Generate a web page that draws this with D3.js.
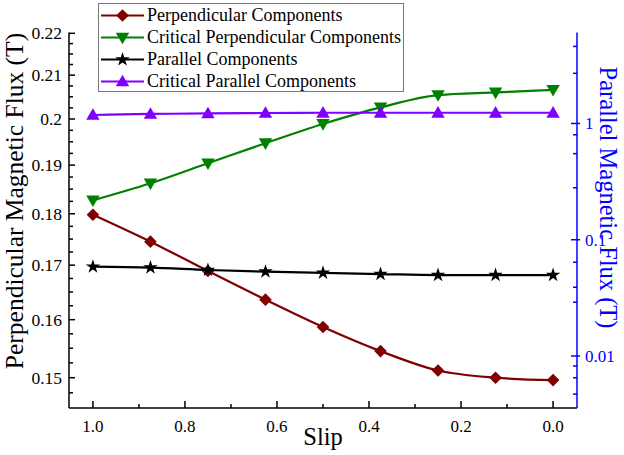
<!DOCTYPE html>
<html>
<head>
<meta charset="utf-8">
<script src="https://cdn.jsdelivr.net/npm/d3@7"></script>
<style>
  body { margin: 0; background: #fff; }
</style>
</head>
<body>
<div class="chart"></div>
<script>
// Chart size
var width = 624;
var height = 455;
var serif = "Liberation Serif, DejaVu Serif, serif";

// Data
var slip = [1.0, 0.875, 0.75, 0.625, 0.5, 0.375, 0.25, 0.125, 0.0];
var perpendicular = [0.1798, 0.1745, 0.1689, 0.1636, 0.1587, 0.1545, 0.1512, 0.1500, 0.1496];
var criticalPerpendicular = [0.1827, 0.1862, 0.1904, 0.1947, 0.1989, 0.2026, 0.2054, 0.2060, 0.2066];
var parallel = [0.0586, 0.0575, 0.0549, 0.0531, 0.0519, 0.0507, 0.0497, 0.0497, 0.0497];
var criticalParallel = [1.183, 1.207, 1.219, 1.231, 1.236, 1.236, 1.236, 1.236, 1.236];

// Tick values
var xMajorTicks = [1.0, 0.8, 0.6, 0.4, 0.2, 0.0];
var xMinorTicks = [0.9, 0.7, 0.5, 0.3, 0.1];
var leftMajorTicks = [0.15, 0.16, 0.17, 0.18, 0.19, 0.2, 0.21, 0.22];
var leftMinorTicks = [0.1475, 0.1525, 0.155, 0.1575, 0.1625, 0.165, 0.1675, 0.1725, 0.175, 0.1775,
  0.1825, 0.185, 0.1875, 0.1925, 0.195, 0.1975, 0.2025, 0.205, 0.2075, 0.2125, 0.215, 0.2175];
var rightMajorTicks = [1, 0.1, 0.01];
var rightTickLabels = ["1", "0.1", "0.01"];
var rightMinorTicks = [4.6, 2.7, 0.8, 0.55, 0.28, 0.064, 0.039, 0.029, 0.0082, 0.0065, 0.0047];

var seriesNames = ["Perpendicular Components", "Critical Perpendicular Components",
  "Parallel Components", "Critical Parallel Components"];
var seriesValues = [perpendicular, criticalPerpendicular, parallel, criticalParallel];
var seriesAxis = ["left", "left", "right", "right"];
var seriesColors = ["#800000", "#008000", "#000000", "#8000ff"];
var seriesMarkers = ["diamond", "triangleDown", "star", "triangleUp"];

// Plot area
var plot = { left: 69, right: 577, top: 32.5, bottom: 408 };

var svg = d3.select(".chart")
  .append("svg")
  .attr("width", width)
  .attr("height", height)
  .attr("font-family", serif);

// Scales
var x = d3.scaleLinear()
  .domain([1.052, -0.052])
  .range([plot.left, plot.right]);

var yLeft = d3.scaleLog()
  .domain([0.14503, 0.2202])
  .range([plot.bottom, plot.top]);

var yRight = d3.scaleLog()
  .domain([0.00357, 6.06])
  .range([plot.bottom, plot.top]);

// Marker shapes
function markerPath(type) {
  if (type == "diamond") return d3.symbol().type(d3.symbolSquare).size(80)();
  if (type == "star") return d3.symbol().type(d3.symbolStar).size(64)();
  return d3.symbol().type(d3.symbolTriangle).size(78)();
}
function markerTransform(type, px, py) {
  if (type == "diamond") return "translate(" + px + "," + py + ") rotate(45)";
  if (type == "triangleDown") return "translate(" + px + "," + (py - 1) + ") rotate(180)";
  if (type == "triangleUp") return "translate(" + px + "," + (py + 1) + ")";
  return "translate(" + px + "," + py + ")";
}

// Series lines and markers
seriesValues.forEach(function (values, s) {
  var yScale = seriesAxis[s] == "left" ? yLeft : yRight;
  var pts = slip.map(function (d, i) { return [x(d), yScale(values[i])]; });

  svg.append("path")
    .attr("d", d3.line().curve(d3.curveMonotoneX)(pts))
    .attr("fill", "none")
    .attr("stroke", seriesColors[s])
    .attr("stroke-width", 2.2);

  svg.selectAll(".m" + s)
    .data(pts)
    .enter().append("path")
    .attr("class", "m" + s)
    .attr("d", markerPath(seriesMarkers[s]))
    .attr("transform", function (p) { return markerTransform(seriesMarkers[s], p[0], p[1]); })
    .attr("fill", seriesColors[s]);
});

// X axis
var xAxis = svg.append("g");
xAxis.append("line")
  .attr("x1", plot.left).attr("x2", plot.right)
  .attr("y1", plot.bottom).attr("y2", plot.bottom)
  .attr("stroke", "#000").attr("stroke-width", 1.5);
xAxis.selectAll(".xmaj")
  .data(xMajorTicks)
  .enter().append("line")
  .attr("x1", function (d) { return x(d); }).attr("x2", function (d) { return x(d); })
  .attr("y1", plot.bottom).attr("y2", plot.bottom - 7)
  .attr("stroke", "#000").attr("stroke-width", 1.5);
xAxis.selectAll(".xmin")
  .data(xMinorTicks)
  .enter().append("line")
  .attr("x1", function (d) { return x(d); }).attr("x2", function (d) { return x(d); })
  .attr("y1", plot.bottom).attr("y2", plot.bottom - 4)
  .attr("stroke", "#000").attr("stroke-width", 1.5);
xAxis.selectAll(".xlab")
  .data(xMajorTicks)
  .enter().append("text")
  .attr("x", function (d) { return x(d); })
  .attr("y", 432)
  .attr("text-anchor", "middle")
  .attr("font-size", 17)
  .text(function (d) { return d.toFixed(1); });

// Left axis
var leftAxis = svg.append("g");
leftAxis.append("line")
  .attr("x1", plot.left).attr("x2", plot.left)
  .attr("y1", plot.top).attr("y2", plot.bottom)
  .attr("stroke", "#000").attr("stroke-width", 1.5);
leftAxis.selectAll(".lmaj")
  .data(leftMajorTicks)
  .enter().append("line")
  .attr("x1", plot.left).attr("x2", plot.left + 6)
  .attr("y1", function (d) { return yLeft(d); }).attr("y2", function (d) { return yLeft(d); })
  .attr("stroke", "#000").attr("stroke-width", 1.5);
leftAxis.selectAll(".lmin")
  .data(leftMinorTicks)
  .enter().append("line")
  .attr("x1", plot.left).attr("x2", plot.left + 4)
  .attr("y1", function (d) { return yLeft(d); }).attr("y2", function (d) { return yLeft(d); })
  .attr("stroke", "#000").attr("stroke-width", 1.5);
leftAxis.selectAll(".llab")
  .data(leftMajorTicks)
  .enter().append("text")
  .attr("x", 62)
  .attr("y", function (d) { return yLeft(d); })
  .attr("dy", "0.35em")
  .attr("text-anchor", "end")
  .attr("font-size", 17.5)
  .text(function (d) { return String(d); });

// Right axis (blue)
var blue = "#0000ff";
var rightAxis = svg.append("g");
rightAxis.append("line")
  .attr("x1", plot.right).attr("x2", plot.right)
  .attr("y1", plot.top).attr("y2", plot.bottom)
  .attr("stroke", blue).attr("stroke-width", 1.5);
rightAxis.selectAll(".rmaj")
  .data(rightMajorTicks)
  .enter().append("line")
  .attr("x1", plot.right - 6).attr("x2", plot.right + 3)
  .attr("y1", function (d) { return yRight(d); }).attr("y2", function (d) { return yRight(d); })
  .attr("stroke", blue).attr("stroke-width", 1.5);
rightAxis.selectAll(".rmin")
  .data(rightMinorTicks)
  .enter().append("line")
  .attr("x1", plot.right - 4).attr("x2", plot.right)
  .attr("y1", function (d) { return yRight(d); }).attr("y2", function (d) { return yRight(d); })
  .attr("stroke", blue).attr("stroke-width", 1.5);
rightAxis.selectAll(".rlab")
  .data(rightMajorTicks)
  .enter().append("text")
  .attr("x", 585)
  .attr("y", function (d) { return yRight(d); })
  .attr("dy", "0.35em")
  .attr("fill", blue)
  .attr("font-size", 17)
  .text(function (d, i) { return rightTickLabels[i]; });

// Axis titles
svg.append("text")
  .attr("transform", "translate(23,201) rotate(-90)")
  .attr("text-anchor", "middle")
  .attr("font-size", 25.5)
  .text("Perpendicular Magnetic Flux (T)");

svg.append("text")
  .attr("transform", "translate(600,197.5) rotate(90)")
  .attr("text-anchor", "middle")
  .attr("fill", blue)
  .attr("font-size", 24.5)
  .text("Parallel Magnetic Flux (T)");

svg.append("text")
  .attr("x", 323)
  .attr("y", 445)
  .attr("text-anchor", "middle")
  .attr("font-size", 24.5)
  .text("Slip");

// Legend
var legend = svg.append("g");
legend.append("rect")
  .attr("x", 98.5).attr("y", 3.5)
  .attr("width", 305).attr("height", 88)
  .attr("fill", "#fff")
  .attr("stroke", "#777")
  .attr("stroke-width", 1);

var legendRows = legend.selectAll(".row")
  .data(seriesNames)
  .enter().append("g")
  .attr("transform", function (d, i) { return "translate(0," + (15.5 + i * 22) + ")"; });

legendRows.append("line")
  .attr("x1", 101).attr("x2", 144)
  .attr("stroke", function (d, i) { return seriesColors[i]; })
  .attr("stroke-width", 2.2);
legendRows.append("path")
  .attr("d", function (d, i) { return markerPath(seriesMarkers[i]); })
  .attr("transform", function (d, i) { return markerTransform(seriesMarkers[i], 122.5, 0); })
  .attr("fill", function (d, i) { return seriesColors[i]; });
legendRows.append("text")
  .attr("x", 147)
  .attr("dy", "0.33em")
  .attr("font-size", 18)
  .text(function (d) { return d; });
</script>
</body>
</html>
